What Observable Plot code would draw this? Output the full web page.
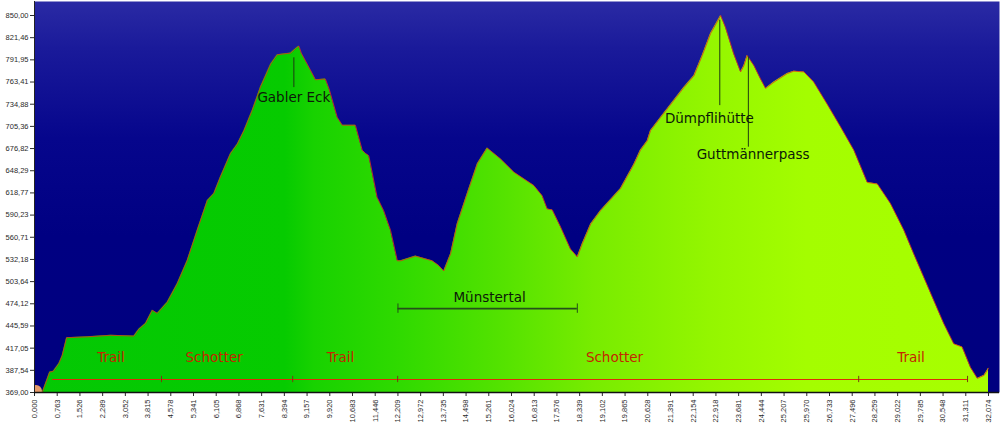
<!DOCTYPE html>
<html>
<head>
<meta charset="utf-8">
<script src="https://cdn.jsdelivr.net/npm/d3@7"></script>
<script src="https://cdn.jsdelivr.net/npm/@observablehq/plot@0.6"></script>
<style>
  html, body { margin: 0; padding: 0; background: #ffffff; }
  #chart { width: 1000px; height: 425px; }
</style>
</head>
<body>
<div id="chart"></div>
<script>
// ---- Elevation profile (distance km, elevation m) ----
const distance = [0.00, 0.26, 0.51, 0.63, 0.82, 0.93, 1.08, 1.77, 2.56, 3.34, 3.51, 3.73, 3.96, 4.13, 4.46, 4.80, 5.13, 5.47, 5.81, 6.03, 6.25, 6.59, 6.82, 7.04, 7.32, 7.60, 7.94, 8.16, 8.61, 8.78, 8.89, 8.97, 9.17, 9.45, 9.78, 9.90, 10.18, 10.35, 10.79, 11.02, 11.13, 11.24, 11.52, 11.74, 11.97, 12.20, 12.31, 12.81, 13.37, 13.59, 13.76, 13.99, 14.21, 14.55, 14.89, 15.22, 15.67, 16.12, 16.79, 17.07, 17.24, 17.41, 17.69, 18.02, 18.25, 18.42, 18.70, 19.03, 19.70, 20.15, 20.37, 20.60, 20.71, 21.05, 21.83, 22.17, 22.45, 22.73, 23.07, 23.23, 23.51, 23.74, 23.85, 23.96, 24.19, 24.41, 24.58, 24.86, 25.31, 25.53, 25.87, 26.20, 26.65, 27.10, 27.55, 28.00, 28.34, 28.78, 29.23, 29.56, 29.90, 30.24, 30.57, 30.91, 31.19, 31.47, 31.70, 31.93, 32.06, 32.074];
const elevation = [369, 369, 395, 396, 406, 416, 439, 440, 442, 441, 450, 457, 474, 470, 484, 508, 537, 576, 614, 623, 644, 674, 686, 703, 729, 759, 788, 800, 802, 808, 811, 802, 788, 768, 769, 757, 720, 710, 710, 678, 674, 671, 618, 601, 576, 537, 537, 543, 537, 531, 524, 546, 584, 623, 661, 681, 667, 650, 633, 620, 603, 602, 580, 552, 542, 559, 584, 601, 629, 660, 678, 690, 703, 720, 758, 773, 799, 827, 850, 835, 801, 778, 786, 799, 786, 769, 757, 765, 776, 779, 778, 765, 737, 708, 678, 637, 635, 610, 576, 546, 516, 486, 457, 431, 427, 401, 387, 391, 399, 400];

// ---- Axis tick labels (as printed) ----
const xTickLabels = ["0,000","0,763","1,526","2,289","3,052","3,815","4,578","5,341","6,105","6,868","7,631","8,394","9,157","9,920","10,683","11,446","12,209","12,972","13,735","14,498","15,261","16,024","16,813","17,576","18,339","19,102","19,865","20,628","21,391","22,154","22,918","23,681","24,444","25,207","25,970","26,733","27,496","28,259","29,022","29,785","30,548","31,311","32,074"];
const yTickLabels = ["369,00","387,54","417,05","445,59","474,12","503,64","532,18","560,71","590,23","618,77","648,29","676,82","705,36","734,88","763,41","791,95","821,46","850,00"];
const xMin = 0, xMax = 32.074;
const yMin = 369, yMax = 850;

// ---- Surface segments ----
const surfaceBreaks = [0.61, 4.27, 8.68, 12.21, 27.71, 31.37];
const surfaceNames = ["Trail", "Schotter", "Trail", "Schotter", "Trail"];
const surfaceLabelAt = [2.57, 6.04, 10.29, 19.5, 29.47];
const surfaceLineElev = 385.6;
const surfaceLabelElev = 414;

// ---- Points of interest ----
const poiNames = ["Gabler Eck", "Dümpflihütte", "Guttmännerpass"];
const poiDist = [8.72, 23.04, 24.0];
const poiLineTop = [796, 844, 797];
const poiLineBottom = [758, 735, 682];
const poiLabelDist = [8.72, 22.69, 24.16];
const poiLabelElev = [745, 718, 672];

// ---- Valley span ----
const valleyName = "Münstertal";
const valleyStart = 12.22, valleyEnd = 18.25;
const valleyElev = 476;
const valleyLabelDist = 15.3, valleyLabelElev = 490.5;

// ---- build tables ----
const profile = distance.map((d, i) => ({d, e: elevation[i]}));
const xTicks = xTickLabels.map((_, i) => xMin + i * (xMax - xMin) / (xTickLabels.length - 1));
const yTicks = yTickLabels.map((_, i) => yMin + i * (yMax - yMin) / (yTickLabels.length - 1));
const xLabelMap = new Map(xTicks.map((v, i) => [v, xTickLabels[i]]));
const yLabelMap = new Map(yTicks.map((v, i) => [v, yTickLabels[i]]));

const segments = surfaceNames.map((n, i) => ({x1: surfaceBreaks[i], x2: surfaceBreaks[i + 1], name: n, at: surfaceLabelAt[i]}));
const surfaceTicks = surfaceBreaks.slice(1);
const pois = poiNames.map((n, i) => ({name: n, d: poiDist[i], top: poiLineTop[i], bottom: poiLineBottom[i], ld: poiLabelDist[i], le: poiLabelElev[i]}));

const W = 1000, H = 425;
const marginLeft = 34, marginRight = 1, marginTop = 1, marginBottom = 33;
const pxPerKm = (988 - 34) / (xMax - xMin);
const pxPerM = (392 - 15) / (yMax - yMin);
const xDomainMax = xMin + (W - marginRight - marginLeft) / pxPerKm;
const yDomainMax = yMin + (H - marginBottom - marginTop) / pxPerM;

const chart = Plot.plot({
  width: W,
  height: H,
  marginLeft, marginRight, marginTop, marginBottom,
  style: {fontFamily: "'Liberation Sans', Arial, sans-serif", fontSize: "7.5px", color: "#2a2a2a", background: "#fff"},
  x: {domain: [xMin, xDomainMax], ticks: xTicks, tickFormat: d => xLabelMap.get(d), tickRotate: -90, tickSize: 4, tickPadding: 3, label: null},
  y: {domain: [yMin, yDomainMax], ticks: yTicks, tickFormat: d => yLabelMap.get(d), tickSize: 4, tickPadding: 2, label: null},
  marks: [
    Plot.frame({fill: "url(#bgFill)", stroke: "none"}),
    Plot.dot([{d: 0.05, e: 371}], {x: "d", y: "e", r: 6, fill: "#e49a6a", stroke: "none", clip: true}),
    Plot.areaY(profile, {x: "d", y1: 369, y2: "e", fill: "url(#profileFill)", curve: "linear"}),
    Plot.line(profile, {x: "d", y: "e", stroke: "#e0301a", strokeWidth: 0.8}),
    // surface bar
    Plot.ruleY([surfaceLineElev], {x1: surfaceBreaks[0], x2: surfaceBreaks[surfaceBreaks.length - 1], stroke: "#e02a08", strokeWidth: 1.2}),
    Plot.ruleX(surfaceTicks, {y1: surfaceLineElev - 4, y2: surfaceLineElev + 4, stroke: "#7a3a10", strokeWidth: 1}),
    Plot.text(segments, {x: "at", y: () => surfaceLabelElev, text: "name", fill: "#c42600", fontSize: 13.5, fontFamily: "'DejaVu Sans', sans-serif"}),
    // points of interest
    Plot.ruleX(pois, {x: "d", y1: "bottom", y2: "top", stroke: "#1d3a12", strokeWidth: 1}),
    Plot.text(pois, {x: "ld", y: "le", text: "name", fill: "#0c1a08", fontSize: 13.5, fontFamily: "'DejaVu Sans', sans-serif"}),
    // valley span
    Plot.ruleY([valleyElev], {x1: valleyStart, x2: valleyEnd, stroke: "#24501a", strokeWidth: 1.6}),
    Plot.ruleX([valleyStart, valleyEnd], {y1: valleyElev - 6, y2: valleyElev + 6, stroke: "#24501a", strokeWidth: 1}),
    Plot.text([valleyName], {x: () => valleyLabelDist, y: () => valleyLabelElev, text: d => d, fill: "#0c1a08", fontSize: 13.5, fontFamily: "'DejaVu Sans', sans-serif"}),
    // axis lines
    Plot.ruleY([yMin], {stroke: "#111", strokeWidth: 1.5}),
    Plot.ruleX([xMin], {stroke: "#222", strokeWidth: 1})
  ]
});

const defs = d3.select(chart).insert("defs", ":first-child");
const bg = defs.append("linearGradient").attr("id", "bgFill").attr("x1", 0).attr("y1", 0).attr("x2", 0).attr("y2", 1);
[[0, "#2a2aa4"], [0.12, "#1a1a9a"], [0.35, "#06068c"], [0.6, "#000082"], [1, "#00007f"]].forEach(([o, c]) => bg.append("stop").attr("offset", o).attr("stop-color", c));
const pf = defs.append("linearGradient").attr("id", "profileFill").attr("gradientUnits", "userSpaceOnUse").attr("x1", 34).attr("y1", 0).attr("x2", 999).attr("y2", 0);
[[0, "#04c804"], [0.26, "#06cb00"], [0.29, "#18d200"], [0.38, "#30da00"], [0.48, "#52e200"], [0.58, "#78ec00"], [0.7, "#94f600"], [0.8, "#a4fd00"], [1, "#a8ff00"]].forEach(([o, c]) => pf.append("stop").attr("offset", o).attr("stop-color", c));

document.getElementById("chart").appendChild(chart);
</script>
</body>
</html>
